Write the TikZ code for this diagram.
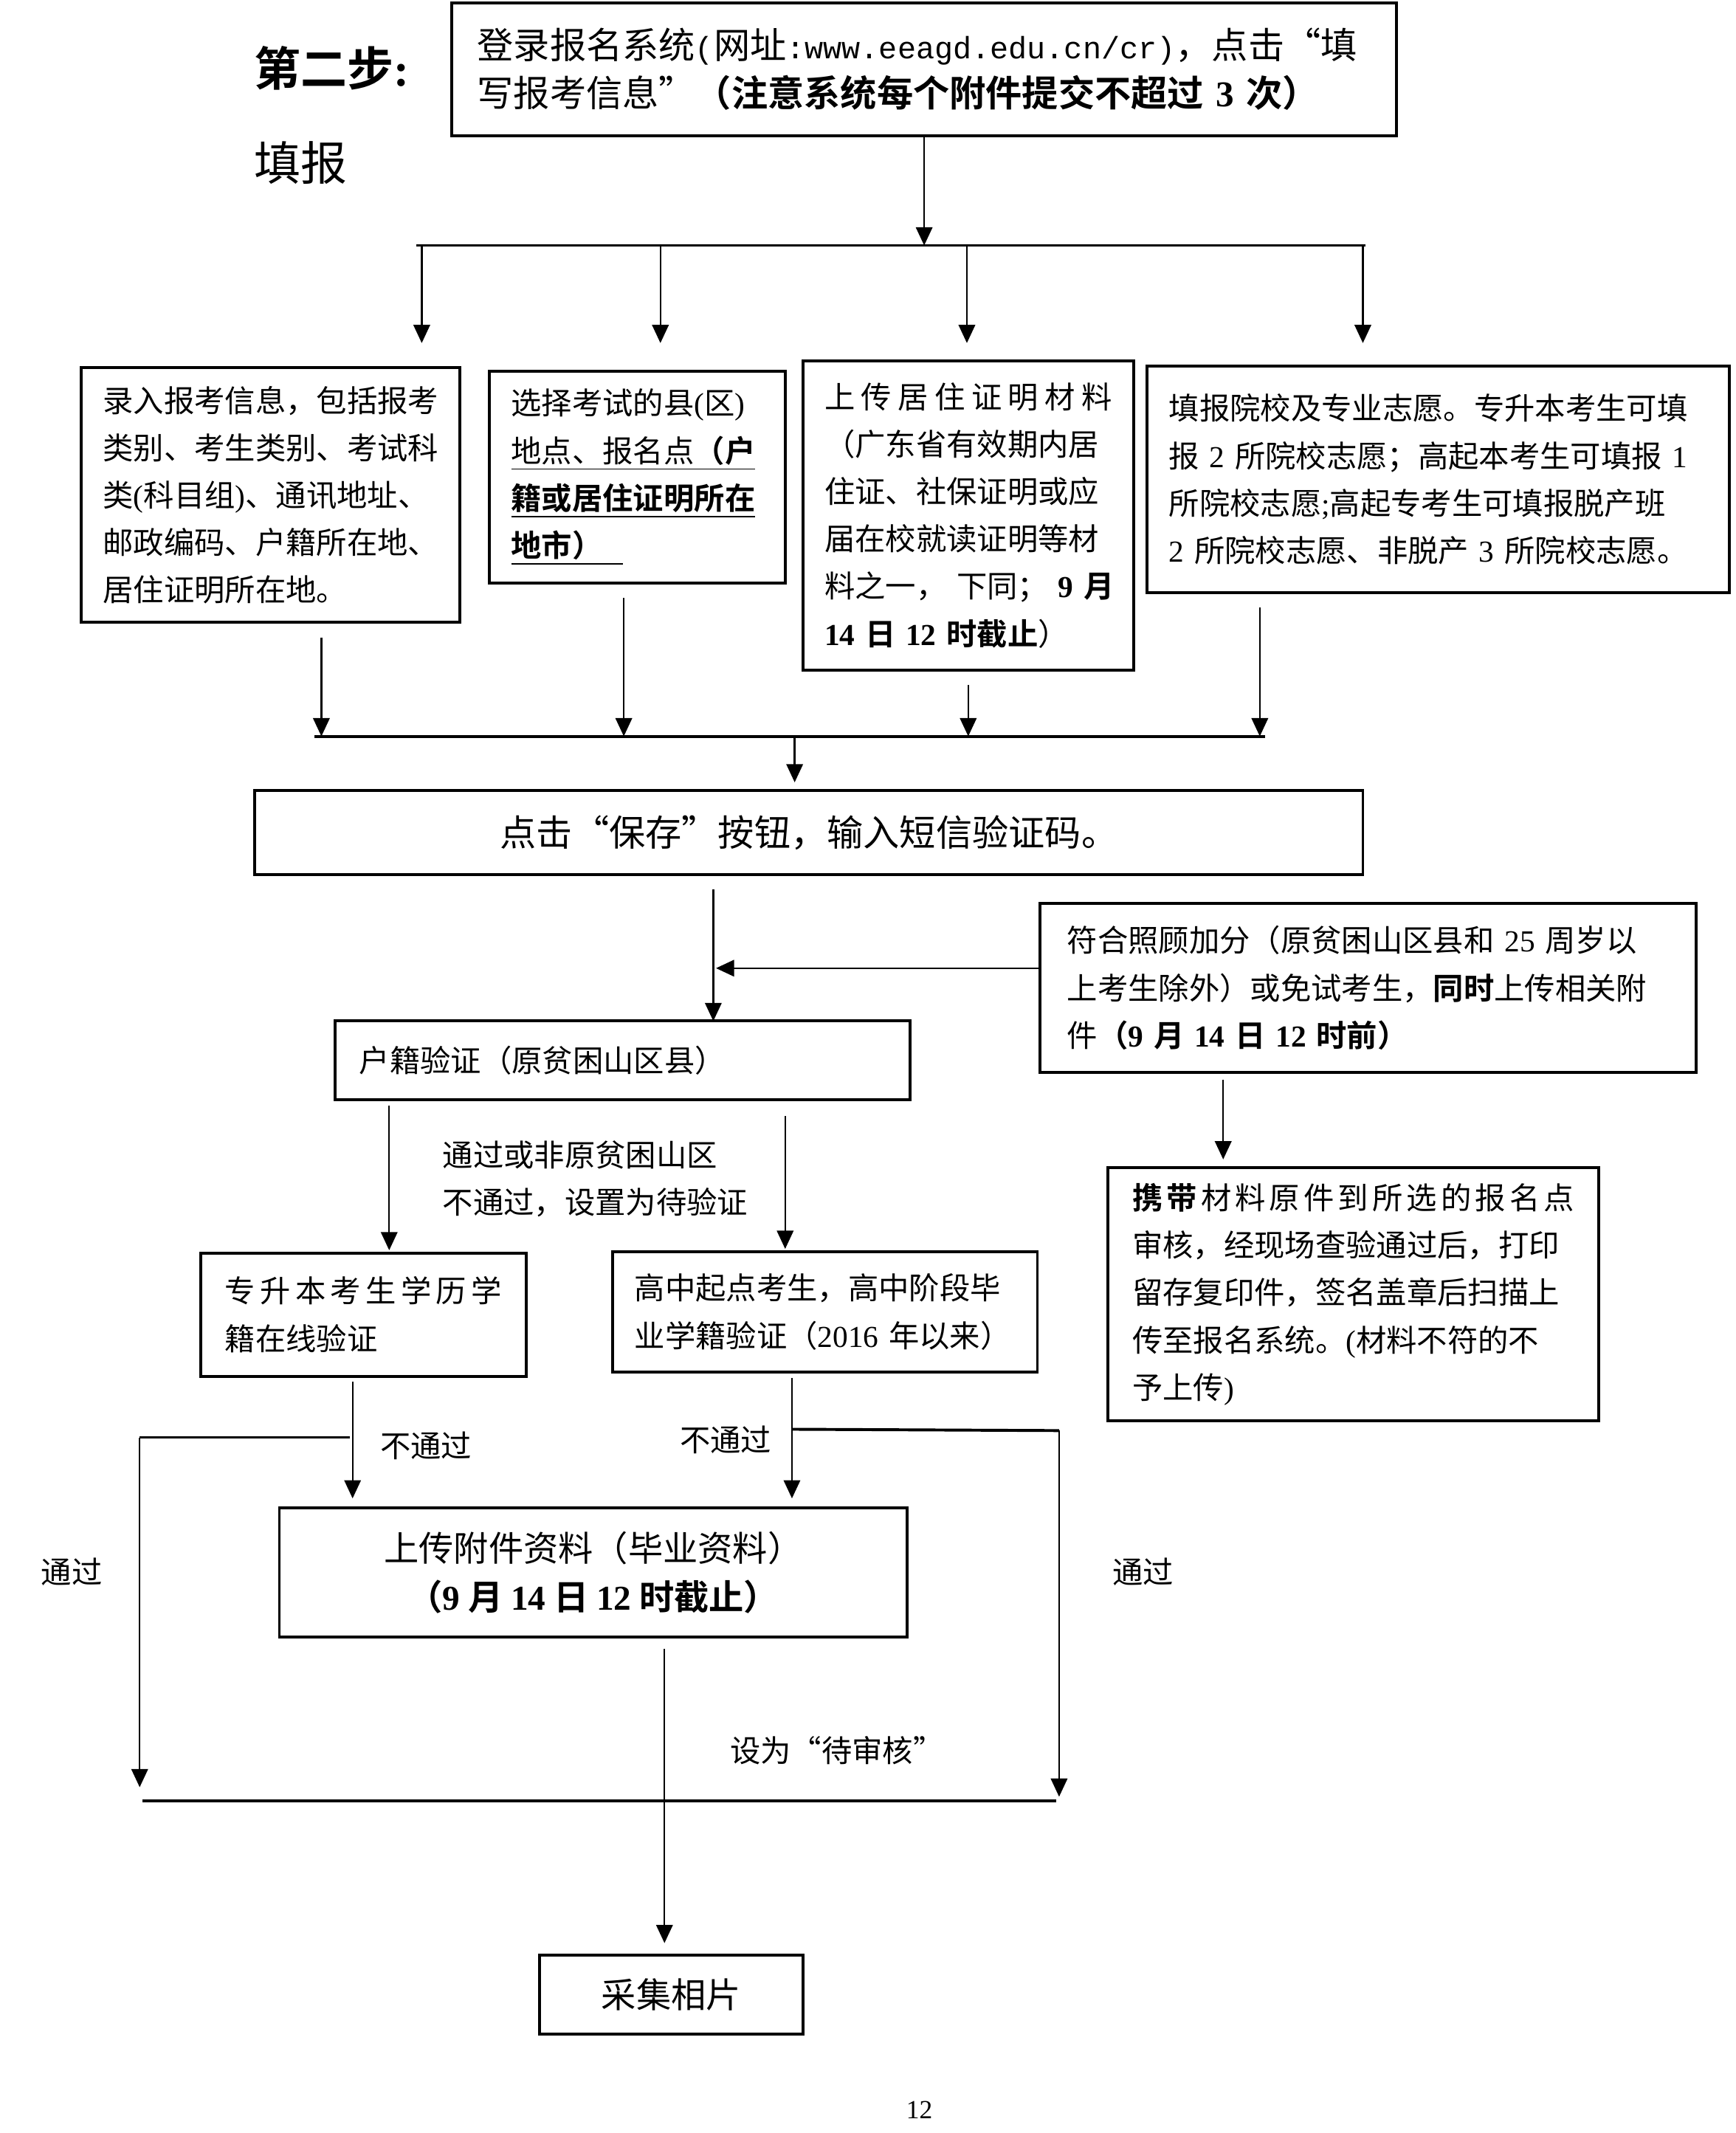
\documentclass[tikz,border=0pt]{standalone}
\usepackage{fontspec}
\setmainfont{Noto Sans CJK SC}[BoldFont={Noto Sans CJK SC Bold}]
\newfontfamily\latin{Liberation Serif}
\newfontfamily\latinmono{Liberation Mono}[Scale=0.85]
\usetikzlibrary{arrows.meta}
\newlength{\pxu}
\setlength{\pxu}{0.0164cm}
\newcommand{\tn}[1]{{\latin #1}}
\newcommand{\jline}[1]{\makebox[\hsize][s]{\spaceskip=0pt plus 1fil\relax #1}}
\tikzset{
  box/.style={draw, line width=1pt, inner xsep=16\pxu, inner ysep=0pt, align=left, font=\fontsize{10.5}{16.3}\selectfont},
  arr/.style={line width=0.6pt, -{Triangle[length=2.2mm,width=2mm]}},
  bus/.style={line width=1pt},
  lbl/.style={anchor=west, inner sep=0pt, font=\fontsize{10.5}{16.3}\selectfont},
}
\begin{document}
\begin{tikzpicture}[x=0.0164cm, y=-0.0164cm]
\useasboundingbox (0,0) rectangle (1280,1573);

\node[anchor=west, font=\fontsize{16}{16}\selectfont\bfseries] (step) at (180,50) {第二步\tn{:}};
\node[anchor=west, font=\fontsize{16}{16}\selectfont] (fill) at (180,120) {填报};

\node[box, font=\fontsize{12.5}{16.3}\selectfont, inner xsep=19\pxu, text width=659\pxu, minimum height=98\pxu] (login) at (681.5,51)
  {登录报名系统{\latinmono (}网址{\latinmono :www.eeagd.edu.cn/cr)}，点击“填\\
   写报考信息”\textbf{（注意系统每个附件提交不超过~\tn{3}~次）}};

\coordinate (b1l) at (307,181);
\coordinate (b1r) at (1007,181);
\draw[bus] (b1l) -- (b1r);
\draw[arr] (login.south) -- (login.south |- b1l);
\foreach \x [count=\i] in {311,487,713,1005}
  \coordinate (d\i) at (\x,253);
\foreach \i in {1,...,4}
  \draw[arr] (d\i |- b1l) -- (d\i);

\node[box, text width=247\pxu, minimum height=188\pxu] (in1) at (199.5,365)
  {录入报考信息，包括报考\\
   类别、考生类别、考试科\\
   类\tn{(}科目组\tn{)}、通讯地址、\\
   邮政编码、户籍所在地、\\
   居住证明所在地。};
\node[box, text width=186\pxu, minimum height=156\pxu] (in2) at (470,352)
  {选择考试的县\tn{(}区\tn{)}\\
   \underline{地点、报名点\textbf{（户}}\\
   \underline{\textbf{籍或居住证明所在}}\\
   \underline{\textbf{地市）}\ \ }};
\node[box, text width=212\pxu, minimum height=228\pxu] (in3) at (714,380)
  {\jline{上 传 居 住 证 明 材 料}\\
   （广东省有效期内居\\
   住证、社保证明或应\\
   届在校就读证明等材\\
   \makebox[\hsize][s]{料之一， 下同； \textbf{\tn{9}~月}}\\
   \textbf{\tn{14}~日~\tn{12}~时截止}）};
\node[box, text width=397\pxu, minimum height=167\pxu] (in4) at (1060.5,353.5)
  {填报院校及专业志愿。专升本考生可填\\
   报~\tn{2}~所院校志愿；高起本考生可填报~\tn{1}\\
   所院校志愿\tn{;}高起专考生可填报脱产班\\
   \tn{2}~所院校志愿、非脱产~\tn{3}~所院校志愿。};

\coordinate (b2l) at (232,543);
\coordinate (b2r) at (933,543);
\draw[bus] (b2l) -- (b2r);
\foreach \n/\x [count=\i] in {in1/237,in2/460,in3/714,in4/929} {
  \coordinate (e\i) at (\x,543);
  \draw[arr, shorten <=10\pxu] (\n.south -| e\i) -- (e\i);
}

\node[box, align=center, font=\fontsize{12.5}{16.3}\selectfont, minimum width=817\pxu, minimum height=62\pxu] (save) at (596.5,614)
  {点击“保存”按钮，输入短信验证码。};
\coordinate (j2) at (586,543);
\draw[arr, shorten >=5\pxu] (j2) -- (save.north -| j2);

\node[box, inner xsep=18\pxu, text width=388\pxu, minimum height=58\pxu] (hukou) at (459,782)
  {户籍验证（原贫困山区县）};
\node[box, inner xsep=20\pxu, text width=444\pxu, minimum height=125\pxu] (extra) at (1009,728.5)
  {符合照顾加分（原贫困山区县和~\tn{25}~周岁以\\
   上考生除外）或免试考生，\textbf{同时}上传相关附\\
   件\textbf{（\tn{9}~月~\tn{14}~日~\tn{12}~时前）}};
\coordinate (h1) at (526,753);
\draw[arr, shorten <=10\pxu] (save.south -| h1) -- (h1);
\coordinate (h2) at (528,714);
\draw[arr] (extra.west |- h2) -- (h2);

\node[box, inner xsep=18\pxu, text width=326\pxu, minimum height=187\pxu] (carry) at (998,954.5)
  {\jline{\textbf{携 带} 材 料 原 件 到 所 选 的 报 名 点}\\
   审核，经现场查验通过后，打印\\
   留存复印件，签名盖章后扫描上\\
   传至报名系统。\tn{(}材料不符的不\\
   予上传\tn{)}};
\coordinate (h3) at (902,855);
\draw[arr, shorten <=4\pxu] (extra.south -| h3) -- (h3);

\node[box, inner xsep=18\pxu, text width=204\pxu, minimum height=91\pxu] (zsb) at (268,969.5)
  {\jline{专 升 本 考 生 学 历 学}\\
   籍在线验证};
\node[box, inner xsep=16\pxu, text width=281\pxu, minimum height=89\pxu] (gz) at (608.5,967.5)
  {高中起点考生，高中阶段毕\\
   业学籍验证（\tn{2016}~年以来）};
\coordinate (h4) at (287,922);
\coordinate (h5) at (579,921);
\draw[arr, shorten <=3\pxu] (hukou.south -| h4) -- (h4);
\draw[arr, shorten <=11\pxu] (hukou.south -| h5) -- (h5);
\node[lbl] (l1) at (326,852) {通过或非原贫困山区};
\node[lbl] (l2) at (326,887) {不通过，设置为待验证};

\node[box, align=center, font=\fontsize{12}{16.8}\selectfont, minimum width=463\pxu, minimum height=95\pxu] (upload) at (437.5,1159.5)
  {上传附件资料（毕业资料）\\
   \textbf{（\tn{9}~月~\tn{14}~日~\tn{12}~时截止）}};
\coordinate (h6) at (260,1105);
\coordinate (h7) at (584,1105);
\draw[arr, shorten <=3\pxu] (zsb.south -| h6) -- (h6);
\draw[arr, shorten <=3\pxu] (gz.south -| h7) -- (h7);

\coordinate (p1) at (258,1060);
\coordinate (p2) at (103,1060);
\coordinate (p3) at (103,1318);
\draw[bus] (p1) -- (p2);
\draw[arr] (p2) -- (p3);
\coordinate (q1) at (584,1054);
\coordinate (q2) at (781,1055);
\coordinate (q3) at (781,1325);
\draw[bus] (q1) -- (q2);
\draw[arr] (q2) -- (q3);
\coordinate (b3l) at (105,1328);
\coordinate (b3r) at (779,1328);
\draw[bus] (b3l) -- (b3r);

\node[lbl] (l3) at (280,1066) {不通过};
\node[lbl] (l4) at (501,1062) {不通过};
\node[lbl] (l5) at (30,1159) {通过};
\node[lbl] (l6) at (820,1159) {通过};
\node[lbl] (l7) at (538,1291) {设为“待审核”};

\node[box, align=center, font=\fontsize{12}{16.8}\selectfont, minimum width=194\pxu, minimum height=58\pxu] (photo) at (495,1471)
  {采集相片};
\coordinate (h8) at (490,1300);
\draw[arr, shorten <=8\pxu, shorten >=8\pxu] (upload.south -| h8) -- (photo.north -| h8);

\node[font=\fontsize{9}{9}\selectfont\latin] (pg) at (678,1556) {12};
\end{tikzpicture}
\end{document}
